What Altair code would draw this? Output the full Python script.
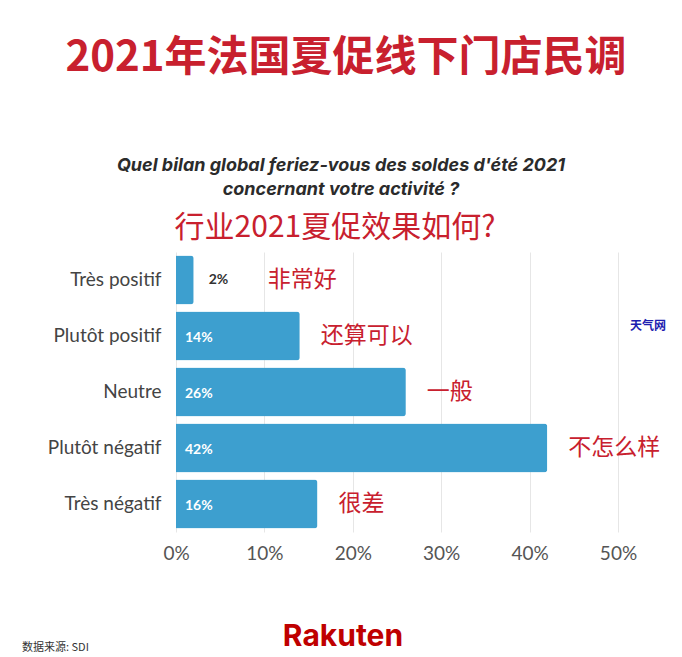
import altair as alt
import pandas as pd

categories = ["Très positif", "Plutôt positif", "Neutre", "Plutôt négatif", "Très négatif"]
values = [2, 14, 26, 42, 16]
notes = ["非常好", "还算可以", "一般", "不怎么样", "很差"]
tick_values = [0, 10, 20, 30, 40, 50]

df = pd.DataFrame({"cat": categories, "val": values, "note": notes})
df["lab"] = df["val"].astype(str) + "%"

BLUE = "#3d9fcf"
RED = "#c8202e"
CJK = "Noto Sans CJK SC"

W, H = 442, 280

y_enc = alt.Y("cat:N", sort=categories, title=None,
              scale=alt.Scale(paddingInner=0.125, paddingOuter=0.0625),
              axis=alt.Axis(labelFont="Lato", labelFontSize=19, labelColor="#444444",
                            labelPadding=15, ticks=False, domain=False, grid=False))
x_scale = alt.Scale(domain=[0, 50], nice=False)

base = alt.Chart(df)

bars = base.mark_bar(color=BLUE, cornerRadiusEnd=3).encode(
    x=alt.X("val:Q", scale=x_scale, title=None,
            axis=alt.Axis(values=tick_values, labelExpr="datum.value + '%'",
                          labelFont="Lato", labelFontSize=19, labelColor="#555555",
                          labelPadding=12, labelFlush=False, ticks=False, domain=False,
                          grid=True, gridColor="#e6e6e6", gridWidth=1)),
    y=y_enc,
)

inside = base.transform_filter("datum.val >= 5").mark_text(
    align="left", baseline="middle", dx=9, dy=2, color="white",
    font="Lato", fontWeight="bold", fontSize=14
).encode(x=alt.datum(0, scale=x_scale), y=alt.Y("cat:N", sort=categories), text="lab:N")

outside = base.transform_filter("datum.val < 5").mark_text(
    align="left", baseline="middle", dx=15, color="#333333",
    font="Lato", fontWeight="bold", fontSize=14
).encode(x=alt.X("val:Q", scale=x_scale), y=alt.Y("cat:N", sort=categories), text="lab:N")

annot = base.transform_calculate(ax="datum.val < 5 ? datum.val + 6 : datum.val").mark_text(
    align="left", baseline="middle", dx=21, color=RED, font=CJK, fontSize=23
).encode(x=alt.X("ax:Q", scale=x_scale), y=alt.Y("cat:N", sort=categories), text="note:N")

def free_text(txt, x, y, **kw):
    return alt.Chart(pd.DataFrame({"t": [txt]})).mark_text(**kw).encode(
        x=alt.value(x), y=alt.value(y), text="t:N")

# positions relative to plot origin (left=176, top=252)
OX, OY = 176, 252
title = free_text("2021年法国夏促线下门店民调", 346 - OX, 58 - OY, font=CJK, fontSize=42,
                  fontWeight="bold", color=RED, align="center", baseline="middle")
fr1 = free_text("Quel bilan global feriez-vous des soldes d'été 2021", 341 - OX, 166 - OY,
                font="Inter", fontSize=18, fontWeight="bold", fontStyle="italic",
                color="#2b2b2b", align="center", baseline="middle")
fr2 = free_text("concernant votre activité ?", 341 - OX, 190 - OY,
                font="Inter", fontSize=18, fontWeight="bold", fontStyle="italic",
                color="#2b2b2b", align="center", baseline="middle")
cn = free_text("行业2021夏促效果如何?", 335 - OX, 228 - OY, font=CJK, fontSize=30,
               color=RED, align="center", baseline="middle")
wm = free_text("天气网", 648 - OX, 326 - OY, font=CJK, fontSize=12, fontWeight="bold",
               color="#1d1db0", align="center", baseline="middle")
src = free_text("数据来源: SDI", 22 - OX, 648 - OY, font=CJK, fontSize=11,
                color="#333333", align="left", baseline="middle")
rak = free_text("Rakuten", 343 - OX, 637 - OY, font="Inter", fontSize=30, fontWeight="bold",
                color="#bf0000", align="center", baseline="middle")

chart = alt.layer(bars, inside, outside, annot, title, fr1, fr2, cn, wm, src, rak).properties(
    width=W, height=H,
    autosize=alt.AutoSizeParams(type="none"),
    padding={"left": OX, "top": OY, "right": 682 - OX - W, "bottom": 657 - OY - H},
    background="white",
).configure_view(stroke=None, clip=False)

chart.save("out.html", embed_options={"renderer": "svg", "actions": False})
